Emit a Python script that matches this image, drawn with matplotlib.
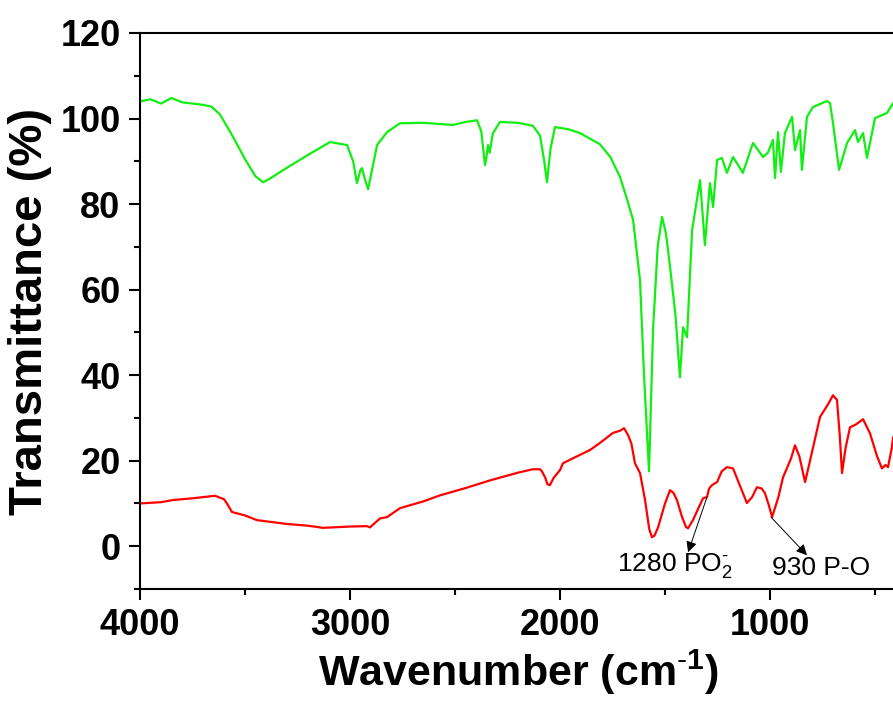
import matplotlib
matplotlib.use("Agg")
import matplotlib.pyplot as plt
from matplotlib.ticker import MultipleLocator

plt.rcParams['font.family'] = ['Liberation Sans', 'DejaVu Sans']
plt.rcParams['mathtext.fontset'] = 'custom'
plt.rcParams['mathtext.rm'] = 'Liberation Sans'
plt.rcParams['mathtext.bf'] = 'Liberation Sans:bold'
plt.rcParams['mathtext.it'] = 'Liberation Sans:italic'

# ---- data ----
wn_green = [4000, 3950, 3900, 3850, 3800, 3750, 3700, 3660, 3620, 3560, 3500, 3450, 3414, 3380,
            3300, 3200, 3095, 3014, 2985, 2967, 2950, 2943, 2930, 2914, 2895, 2871, 2824, 2762,
            2650, 2510, 2450, 2395, 2375, 2357, 2350, 2343, 2335, 2320, 2286, 2200, 2129, 2095,
            2075, 2062, 2045, 2024, 1960, 1905, 1810, 1760, 1714, 1680, 1652, 1619, 1600, 1576,
            1557, 1535, 1514, 1495, 1476, 1450, 1429, 1414, 1395, 1371, 1333, 1310, 1286, 1271,
            1252, 1229, 1205, 1176, 1129, 1081, 1033, 1010, 986, 976, 962, 948, 929, 895, 881,
            857, 848, 824, 795, 729, 714, 700, 671, 633, 595, 581, 557, 538, 500, 443, 414, 400]
t_green = [104, 104.5, 103.5, 104.8, 103.8, 103.5, 103.2, 102.8, 101, 96, 90.5, 86.5, 85.1, 86,
           88.5, 91.5, 94.5, 93.8, 90, 84.9, 88, 88.4, 86, 83.5, 88, 93.8, 96.8, 98.9,
           99, 98.5, 99.2, 99.6, 97, 89.1, 91, 93.8, 92, 96.5, 99.2, 99, 98.3, 96,
           90, 85.1, 93, 98, 97.5, 96.6, 94, 91, 86.3, 81, 76.3, 62.2, 40, 17.5,
           50.5, 70, 77, 73, 65.3, 54, 39.5, 51.2, 48.9, 73.9, 85.6, 70.4, 84.9, 79.3,
           90.3, 90.8, 87.3, 91, 87.3, 94.3, 91, 92, 95, 86.1, 96.8, 87.5, 96.6, 100.4, 92.6,
           97.3, 88, 100.4, 102.7, 104.1, 103.6, 98.9, 88, 94.3, 97.3, 94.5, 96.6, 90.8, 100.1,
           101.3, 103.6, 102]

wn_red = [4000, 3900, 3843, 3750, 3643, 3600, 3581, 3562, 3500, 3443, 3300, 3200, 3129, 3000,
          2919, 2905, 2880, 2857, 2824, 2762, 2650, 2571, 2450, 2333, 2200, 2129, 2095, 2086,
          2070, 2060, 2048, 2030, 2000, 1986, 1920, 1857, 1800, 1748, 1714, 1695, 1676, 1660,
          1643, 1619, 1595, 1575, 1562, 1550, 1533, 1500, 1476, 1460, 1443, 1420, 1400, 1390,
          1367, 1340, 1319, 1300, 1290, 1276, 1252, 1230, 1205, 1176, 1150, 1110, 1085, 1062,
          1040, 1024, 1005, 990, 960, 938, 900, 881, 860, 833, 800, 762, 720, 700, 681, 668,
          657, 640, 619, 590, 557, 524, 490, 467, 450, 438, 420, 414, 400]
t_red = [10, 10.3, 10.8, 11.2, 11.8, 11, 9.6, 8.0, 7.2, 6.1, 5.2, 4.8, 4.3, 4.6,
         4.7, 4.4, 5.5, 6.5, 6.8, 8.9, 10.5, 11.9, 13.6, 15.4, 17.2, 18.0, 18.0, 17.5,
         16, 14.5, 14.3, 16, 17.8, 19.4, 21, 22.5, 24.5, 26.5, 27, 27.6, 26.0, 24,
         19.4, 17.1, 10.8, 4, 2.1, 2.5, 4.4, 10, 13.1, 12.5, 10.8, 7, 4.5, 4.2,
         6.1, 9, 11.2, 11.5, 13.5, 14.3, 15.0, 17.5, 18.5, 18.2, 15, 10.1, 11.5, 13.8,
         13.5, 12.4, 9.5, 6.8, 11.5, 16.1, 20.5, 23.6, 21, 15.0, 22, 30.2, 33.5, 35.3, 34.2, 26,
         17.1, 23, 27.8, 28.5, 29.7, 26.4, 21, 18.2, 19, 18.5, 23, 25.3, 27]

ann_labels = [r'1280 PO$_2^{\text{-}}$', '930 P-O']
ann_from = [(1300, 11.5), (995, 6.8)]
ann_tip = [(1390, -1.4), (824, -2.1)]
ann_text = [(1730, -4.6), (990, -5.0)]

# ---- figure ----
fig = plt.figure(figsize=(8.93, 7.06), dpi=100)
ax = fig.add_axes([140/893, (706-589)/706, (896-140)/893, (589-33)/706])

ax.plot(wn_green, t_green, color='#11ee11', lw=1.6)
ax.plot(wn_red, t_red, color='#ff0000', lw=1.6)

for lab, p0, p1, pt in zip(ann_labels, ann_from, ann_tip, ann_text):
    ax.annotate('', xy=p1, xytext=p0,
                arrowprops=dict(arrowstyle='-|>', color='black', lw=0.7,
                                mutation_scale=16, shrinkA=0, shrinkB=0))
    ax.text(pt[0], pt[1], lab, fontsize=19, ha='left', va='center', color='black')

ax.set_xlim(4000, 400)
ax.set_ylim(-10, 120)
ax.xaxis.set_major_locator(MultipleLocator(1000))
ax.xaxis.set_minor_locator(MultipleLocator(500))
ax.yaxis.set_major_locator(MultipleLocator(20))
ax.yaxis.set_minor_locator(MultipleLocator(10))
ax.set_yticks([0, 20, 40, 60, 80, 100, 120])

for s in ax.spines.values():
    s.set_linewidth(1.5)
ax.tick_params(which='major', direction='out', length=8, width=1.5, pad=6,
               labelsize=26)
ax.tick_params(which='minor', direction='out', length=4, width=1.5)
ax.tick_params(top=False, right=False, which='both')
for lbl in ax.get_xticklabels() + ax.get_yticklabels():
    lbl.set_fontweight('bold')

ax.set_xlabel(r'Wavenumber (cm$^{\mathbf{\text{-}1}}$)', fontsize=31, fontweight='bold', labelpad=3)
ax.set_ylabel('Transmittance (%)', fontsize=34, fontweight='bold', labelpad=6)

fig.savefig('out.png', dpi=100)
